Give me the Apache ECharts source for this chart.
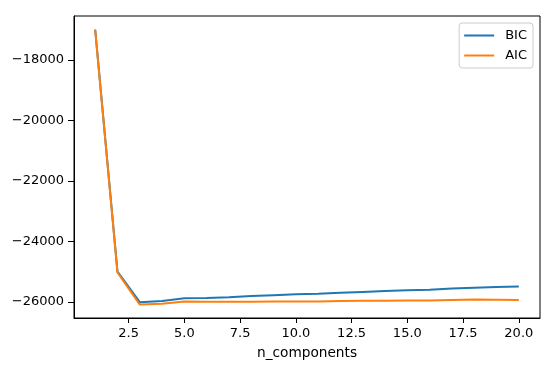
<!DOCTYPE html>
<html>
<head>
<meta charset="utf-8">
<script src="https://cdn.jsdelivr.net/npm/echarts@6/dist/echarts.min.js"></script>
<style>html,body{margin:0;padding:0;background:#fff}#c{width:550px;height:368px}</style>
</head>
<body>
<div id="c"></div>
<script>
const nComponents = [1,2,3,4,5,6,7,8,9,10,11,12,13,14,15,16,17,18,19,20];
const bic = [-16990,-25000,-26010,-25970,-25880,-25870,-25850,-25810,-25780,-25750,-25730,-25700,-25670,-25640,-25620,-25600,-25560,-25530,-25510,-25495];
const aic = [-17010,-25030,-26090,-26060,-25990,-26000,-26000,-25995,-25990,-25985,-25985,-25975,-25965,-25960,-25955,-25955,-25940,-25925,-25930,-25935];
const xTicks = [2.5,5,7.5,10,12.5,15,17.5,20];
const yTicks = [-26000,-24000,-22000,-20000,-18000];

const font = 'DejaVu Sans';
const chart = echarts.init(document.getElementById('c'), null, {renderer:'canvas'});
const pair = (xs, ys) => xs.map((x,i)=>[x, ys[i]]);
chart.setOption({
  animation: false,
  textStyle: {fontFamily: font},
  grid: {left: 74, right: 10, top: 16, bottom: 50, show: true, borderColor: '#000', borderWidth: 1},
  legend: {
    orient: 'vertical', right: 17, top: 23,
    data: [{name:'BIC', icon:'rect'},{name:'AIC', icon:'rect'}],
    itemWidth: 30, itemHeight: 2, itemGap: 7,
    borderColor: '#ccc', borderWidth: 1, borderRadius: 3,
    padding: [6,6,6,5],
    textStyle: {fontFamily: font, fontSize: 13, color: '#000', padding: [0,0,0,6]}
  },
  xAxis: {
    type: 'value', min: 0.05, max: 20.95,
    name: 'n_components', nameLocation: 'middle', nameGap: 28,
    nameTextStyle: {fontFamily: font, fontSize: 13.7, color: '#000'},
    axisLine: {show: true, onZero: false, lineStyle: {color: '#000', width: 1}},
    axisTick: {show: true, inside: false, length: 5, customValues: xTicks, lineStyle: {color: '#000'}},
    axisLabel: {customValues: xTicks, margin: 9, fontFamily: font, fontSize: 13, color: '#000',
      formatter: v => Number(v).toFixed(1)},
    splitLine: {show: false}
  },
  yAxis: {
    type: 'value', min: -26534, max: -16543,
    axisLine: {show: true, onZero: false, lineStyle: {color: '#000', width: 1}},
    axisTick: {show: true, inside: false, length: 6, customValues: yTicks, lineStyle: {color: '#000'}},
    axisLabel: {customValues: yTicks, margin: 10, fontFamily: font, fontSize: 13, color: '#000',
      formatter: v => (v < 0 ? '\u2212' + Math.abs(v) : String(v))},
    splitLine: {show: false}
  },
  series: [
    {name: 'BIC', type: 'line', data: pair(nComponents, bic), symbol: 'none', color: '#1f77b4', lineStyle: {width: 2, color: '#1f77b4'}},
    {name: 'AIC', type: 'line', data: pair(nComponents, aic), symbol: 'none', color: '#ff7f0e', lineStyle: {width: 2, color: '#ff7f0e'}}
  ]
});
</script>
</body>
</html>
